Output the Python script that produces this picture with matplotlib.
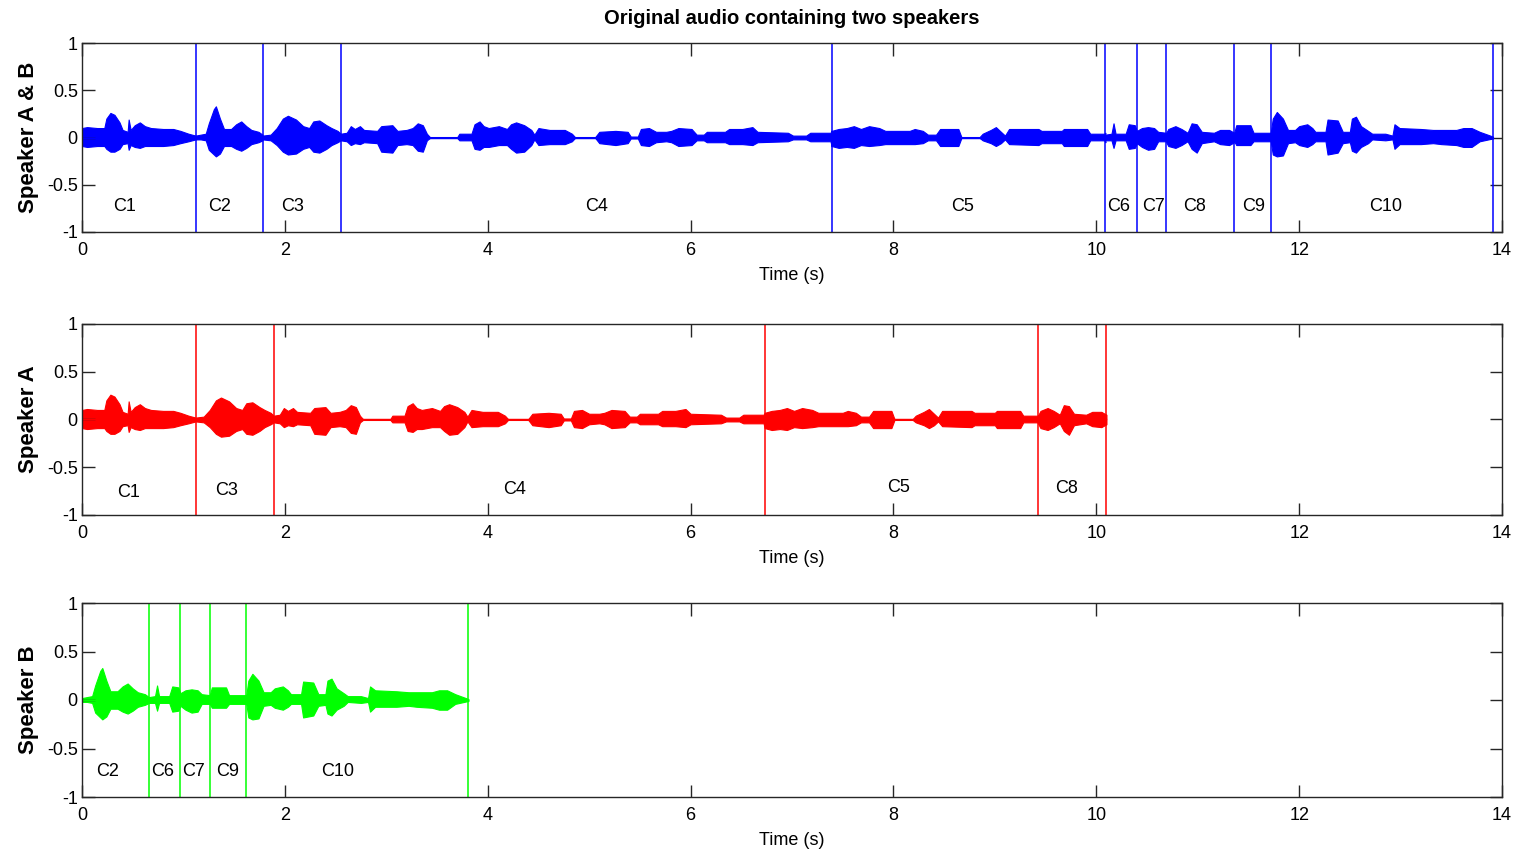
import numpy as np
import matplotlib
matplotlib.use('Agg')
import matplotlib.pyplot as plt

plt.rcParams['font.family'] = ['Liberation Sans', 'DejaVu Sans']

# envelope of speaker A waveform (time s, upper, lower)
a_t = [0.00, 0.05, 0.15, 0.22, 0.24, 0.28, 0.32, 0.37, 0.40, 0.45, 0.46, 0.48, 0.52, 0.57, 0.62, 0.68,
       0.80, 0.90, 0.97, 1.05, 1.12, 1.20, 1.26, 1.32, 1.37, 1.45, 1.52, 1.58, 1.62, 1.68, 1.75, 1.80,
       1.86, 1.89, 1.95, 1.99, 2.03, 2.08, 2.12, 2.25, 2.29, 2.40, 2.45, 2.54, 2.60, 2.65, 2.70, 2.74,
       2.77, 3.04, 3.06, 3.18, 3.21, 3.26, 3.30, 3.35, 3.45, 3.53, 3.57, 3.62, 3.70, 3.77, 3.80, 3.84,
       3.95, 4.10, 4.17, 4.20, 4.40, 4.44, 4.60, 4.72, 4.75, 4.82, 4.85, 4.93, 5.00, 5.10, 5.15, 5.22,
       5.35, 5.40, 5.47, 5.50, 5.68, 5.72, 5.85, 5.95, 6.00, 6.30, 6.35, 6.48, 6.52, 6.72, 6.73, 6.80,
       6.88, 6.95, 7.02, 7.10, 7.20, 7.26, 7.50, 7.55, 7.63, 7.68, 7.76, 7.80, 7.98, 8.01, 8.19, 8.22,
       8.30, 8.35, 8.40, 8.44, 8.48, 8.77, 8.80, 9.00, 9.02, 9.25, 9.28, 9.42, 9.43, 9.45, 9.52, 9.58,
       9.64, 9.68, 9.73, 9.78, 9.90, 9.96, 10.05, 10.10]
a_up = [0.10, 0.11, 0.10, 0.10, 0.20, 0.26, 0.24, 0.16, 0.08, 0.06, 0.19, 0.08, 0.13, 0.16, 0.12, 0.10,
        0.09, 0.09, 0.07, 0.04, 0.02, 0.03, 0.10, 0.20, 0.23, 0.19, 0.12, 0.10, 0.17, 0.18, 0.13, 0.10,
        0.07, 0.04, 0.05, 0.12, 0.09, 0.12, 0.08, 0.07, 0.12, 0.13, 0.07, 0.08, 0.10, 0.15, 0.13, 0.04,
        0.005, 0.005, 0.04, 0.04, 0.14, 0.17, 0.12, 0.10, 0.12, 0.09, 0.14, 0.16, 0.13, 0.08, 0.03, 0.10,
        0.08, 0.08, 0.04, 0.005, 0.005, 0.06, 0.07, 0.06, 0.01, 0.01, 0.09, 0.10, 0.06, 0.06, 0.07, 0.10,
        0.09, 0.03, 0.03, 0.06, 0.06, 0.09, 0.09, 0.11, 0.06, 0.05, 0.02, 0.02, 0.05, 0.05, 0.07, 0.09,
        0.10, 0.12, 0.09, 0.12, 0.10, 0.07, 0.07, 0.09, 0.07, 0.03, 0.03, 0.09, 0.09, 0.005, 0.005, 0.04,
        0.08, 0.11, 0.06, 0.02, 0.09, 0.09, 0.07, 0.07, 0.09, 0.09, 0.04, 0.04, 0.05, 0.09, 0.12, 0.09,
        0.05, 0.15, 0.14, 0.06, 0.05, 0.08, 0.08, 0.05]
a_lo = [-0.09, -0.10, -0.09, -0.09, -0.12, -0.15, -0.15, -0.12, -0.07, -0.06, -0.13, -0.08, -0.10, -0.11, -0.09, -0.09,
        -0.09, -0.08, -0.06, -0.04, -0.02, -0.03, -0.08, -0.15, -0.18, -0.17, -0.12, -0.10, -0.15, -0.16, -0.12, -0.08,
        -0.05, -0.03, -0.04, -0.08, -0.06, -0.07, -0.05, -0.06, -0.15, -0.16, -0.08, -0.07, -0.08, -0.14, -0.15, -0.03,
        -0.005, -0.005, -0.03, -0.03, -0.12, -0.13, -0.10, -0.10, -0.08, -0.08, -0.12, -0.16, -0.15, -0.08, -0.02, -0.08,
        -0.07, -0.07, -0.04, -0.005, -0.005, -0.06, -0.08, -0.06, -0.01, -0.01, -0.08, -0.09, -0.05, -0.04, -0.05, -0.09,
        -0.08, -0.03, -0.03, -0.05, -0.05, -0.07, -0.07, -0.08, -0.05, -0.04, -0.02, -0.02, -0.04, -0.04, -0.09, -0.11,
        -0.10, -0.11, -0.08, -0.09, -0.08, -0.07, -0.07, -0.07, -0.06, -0.03, -0.03, -0.09, -0.09, -0.005, -0.005, -0.03,
        -0.06, -0.09, -0.06, -0.02, -0.07, -0.08, -0.06, -0.06, -0.09, -0.09, -0.03, -0.03, -0.05, -0.09, -0.11, -0.08,
        -0.04, -0.12, -0.16, -0.06, -0.04, -0.07, -0.08, -0.05]

# envelope of speaker B waveform
b_t = [0.00, 0.05, 0.10, 0.13, 0.18, 0.20, 0.24, 0.28, 0.35, 0.40, 0.45, 0.50, 0.55, 0.62, 0.66, 0.72,
       0.74, 0.76, 0.86, 0.89, 0.95, 0.97, 1.02, 1.08, 1.14, 1.18, 1.26, 1.28, 1.42, 1.45, 1.62, 1.64,
       1.68, 1.74, 1.79, 1.86, 1.90, 1.98, 2.03, 2.06, 2.16, 2.18, 2.28, 2.33, 2.40, 2.42, 2.46, 2.51,
       2.58, 2.62, 2.75, 2.82, 2.84, 2.89, 3.10, 3.22, 3.30, 3.45, 3.52, 3.60, 3.68, 3.81]
b_up = [0.02, 0.03, 0.04, 0.15, 0.30, 0.33, 0.20, 0.09, 0.09, 0.14, 0.17, 0.12, 0.08, 0.06, 0.03, 0.04,
        0.15, 0.04, 0.04, 0.14, 0.13, 0.07, 0.10, 0.11, 0.10, 0.06, 0.05, 0.13, 0.13, 0.05, 0.05, 0.20,
        0.27, 0.20, 0.08, 0.08, 0.12, 0.14, 0.10, 0.06, 0.06, 0.19, 0.18, 0.06, 0.06, 0.20, 0.22, 0.12,
        0.07, 0.04, 0.04, 0.02, 0.14, 0.10, 0.09, 0.08, 0.08, 0.08, 0.10, 0.10, 0.06, 0.01]
b_lo = [-0.02, -0.02, -0.03, -0.13, -0.18, -0.20, -0.17, -0.09, -0.09, -0.12, -0.14, -0.11, -0.07, -0.05, -0.03, -0.03,
        -0.11, -0.03, -0.03, -0.12, -0.11, -0.06, -0.10, -0.13, -0.12, -0.04, -0.04, -0.08, -0.08, -0.04, -0.04, -0.18,
        -0.20, -0.19, -0.06, -0.05, -0.08, -0.10, -0.07, -0.04, -0.04, -0.18, -0.16, -0.06, -0.05, -0.14, -0.16, -0.10,
        -0.06, -0.02, -0.03, -0.02, -0.12, -0.07, -0.07, -0.06, -0.07, -0.08, -0.10, -0.10, -0.04, -0.01]

# cluster boundaries within each speaker's own track
a_bounds = [0, 1.12, 1.89, 6.73, 9.43, 10.10]
b_bounds = [0, 0.66, 0.97, 1.26, 1.62, 3.81]
a_names = ['C1', 'C3', 'C4', 'C5', 'C8']
b_names = ['C2', 'C6', 'C7', 'C9', 'C10']

# order of clusters in the original mixed recording: (speaker, index into that speaker's clusters)
mix_order = [('A', 0), ('B', 0), ('A', 1), ('A', 2), ('A', 3), ('B', 1), ('B', 2), ('A', 4), ('B', 3), ('B', 4)]

# where the cluster names sit (x in s, y in amplitude)
mix_label_x = [0.42, 1.36, 2.08, 5.07, 8.68, 10.22, 10.56, 10.97, 11.55, 12.85]
a_label_x = [0.46, 1.43, 4.26, 8.05, 9.71]
a_label_y = [-0.76, -0.74, -0.73, -0.71, -0.72]
b_label_x = [0.25, 0.79, 1.10, 1.44, 2.52]

tracks = {'A': (np.array(a_t), np.array(a_up), np.array(a_lo), a_bounds, a_names),
          'B': (np.array(b_t), np.array(b_up), np.array(b_lo), b_bounds, b_names)}

W, H = 1514, 851
fig = plt.figure(figsize=(W / 100, H / 100), dpi=100)


def make_ax(top, bottom):
    ax = fig.add_axes([82 / W, 1 - bottom / H, 1420 / W, (bottom - top) / H])
    ax.set_xlim(0, 14)
    ax.set_ylim(-1, 1)
    ax.set_xticks(range(0, 15, 2))
    ax.set_yticks([-1, -0.5, 0, 0.5, 1])
    ax.set_yticklabels(['-1', '-0.5', '0', '0.5', '1'])
    ax.tick_params(direction='in', length=9, width=1, top=True, right=True,
                   labelsize=13, colors='#262626', labelcolor='black')
    ax.tick_params(axis='x', pad=7)
    ax.tick_params(axis='y', pad=3)
    for s in ax.spines.values():
        s.set_color('#262626')
        s.set_linewidth(1)
    ax.set_xlabel('Time (s)', fontsize=13, labelpad=6)
    return ax


def draw_env(ax, t, up, lo, color):
    ax.fill_between(t, lo, up, color=color, linewidth=0.8, edgecolor=color)
    ax.plot(t, np.zeros_like(t), color=color, lw=1)


ax1 = make_ax(43, 232)
ax2 = make_ax(324, 515)
ax3 = make_ax(603, 797)

# top: mixed recording assembled cluster by cluster
offset = 0.0
cuts = []
for spk, k in mix_order:
    t, up, lo, bnd, names = tracks[spk]
    m = (t >= bnd[k] - 1e-9) & (t <= bnd[k + 1] + 1e-9)
    draw_env(ax1, t[m] - bnd[k] + offset, up[m], lo[m], 'blue')
    offset += bnd[k + 1] - bnd[k]
    cuts.append(offset)
for c in cuts:
    ax1.axvline(c, color='blue', lw=1.1)
for (spk, k), x in zip(mix_order, mix_label_x):
    ax1.text(x, -0.73, tracks[spk][4][k], ha='center', va='center', fontsize=13)
ax1.set_ylabel('Speaker A & B', fontsize=16, fontweight='bold', labelpad=6)
ax1.set_title('Original audio containing two speakers', fontsize=14.5, fontweight='bold', pad=14)

# speaker A alone
draw_env(ax2, np.array(a_t), np.array(a_up), np.array(a_lo), 'red')
for c in a_bounds[1:]:
    ax2.axvline(c, color='red', lw=1.1)
for x, y, n in zip(a_label_x, a_label_y, a_names):
    ax2.text(x, y, n, ha='center', va='center', fontsize=13)
ax2.set_ylabel('Speaker A', fontsize=16, fontweight='bold', labelpad=6)

# speaker B alone
draw_env(ax3, np.array(b_t), np.array(b_up), np.array(b_lo), '#00ff00')
for c in b_bounds[1:]:
    ax3.axvline(c, color='#00ff00', lw=1.1)
for x, n in zip(b_label_x, b_names):
    ax3.text(x, -0.74, n, ha='center', va='center', fontsize=13)
ax3.set_ylabel('Speaker B', fontsize=16, fontweight='bold', labelpad=6)

fig.savefig('out.png', dpi=100)
